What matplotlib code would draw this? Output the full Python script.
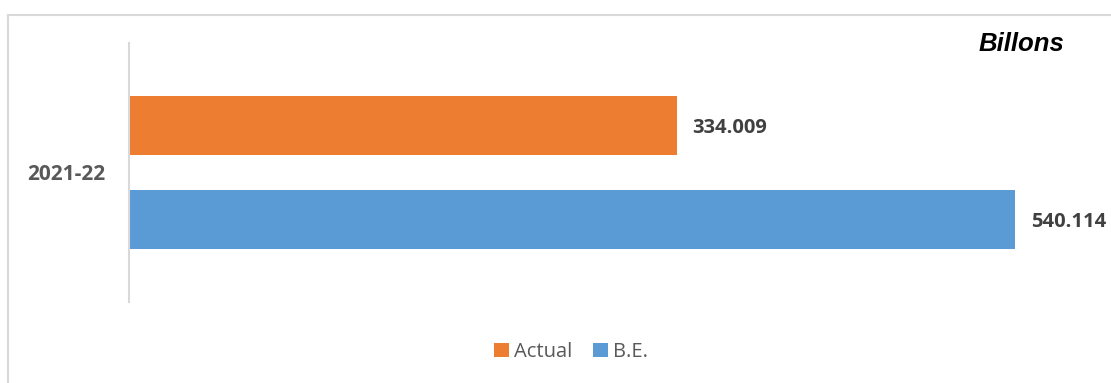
import matplotlib
import matplotlib.pyplot as plt
from matplotlib.lines import Line2D
from matplotlib.patches import Patch

matplotlib.use("agg")

category = "2021-22"
series = ["Actual", "B.E."]
values = [334.009, 540.114]
colors = ["#ED7D31", "#5B9BD5"]
offsets = [0.1815, -0.1815]

W, H = 1111, 383
fig = plt.figure(figsize=(W / 100, H / 100), dpi=100)

# chart frame (only top and left edges are visible in the crop)
fig.add_artist(Line2D([8 / W, 8 / W], [0, 1 - 15 / H], color="#d9d9d9", lw=1.5,
                      transform=fig.transFigure))
fig.add_artist(Line2D([8 / W, 1], [1 - 15 / H, 1 - 15 / H], color="#d9d9d9", lw=1.5,
                      transform=fig.transFigure))

left, right = 129 / W, 1080 / W
bottom, top = 1 - 302 / H, 1 - 43 / H
ax = fig.add_axes([left, bottom, right - left, top - bottom])

for v, c, off in zip(values, colors, offsets):
    ax.barh(off, v, height=0.228, color=c)
    ax.text(v + 9.5, off - 0.01, f"{v:.3f}", va="center", ha="left",
            fontsize=14.5, fontweight="bold", color="#404040", family="Open Sans")

ax.set_xlim(0, (1080 - 129) / 1.6404)
ax.set_ylim(-0.5, 0.5)
ax.set_xticks([])
ax.set_yticks([0])
ax.set_yticklabels([category], fontsize=15, fontweight="bold", color="#595959",
                   family="Open Sans")
ax.tick_params(axis="y", length=0, pad=17)
for s in ["top", "right", "bottom"]:
    ax.spines[s].set_visible(False)
ax.spines["left"].set_color("#d9d9d9")
ax.spines["left"].set_linewidth(1.5)

fig.text(1064 / W, 1 - 44 / H, "Billons", ha="right", va="center", fontsize=18.5,
         fontweight="bold", fontstyle="italic", family="Liberation Sans", color="black")

handles = [Patch(facecolor=c, label=s) for s, c in zip(series, colors)]
fig.legend(handles=handles, loc="center", bbox_to_anchor=(571 / W, 1 - 352 / H),
           ncol=2, frameon=False, handlelength=0.75, handleheight=0.75,
           handletextpad=0.25, columnspacing=1.0,
           prop={"family": "Open Sans", "size": 14.5}, labelcolor="#595959")

fig.savefig("out.png", dpi=100)
